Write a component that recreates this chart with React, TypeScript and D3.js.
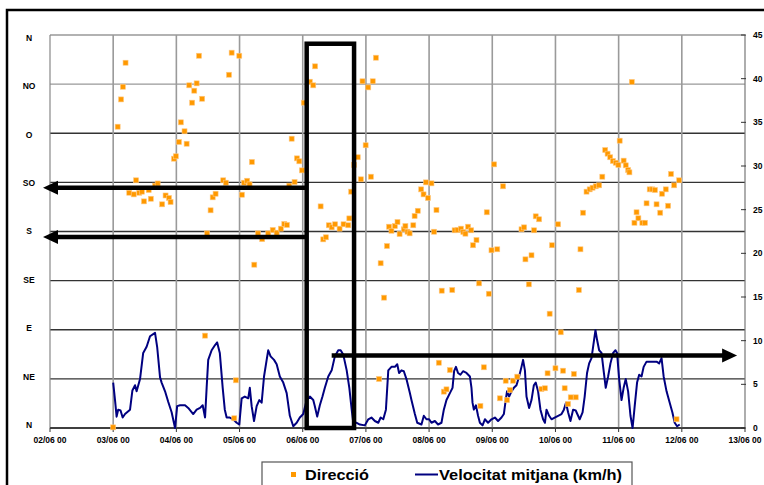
import { useEffect, useRef } from 'react';
import * as d3 from 'd3';

// hours since 02/06 00 -> mean wind speed (km/h)
const speedSeries: [number, number][] = [
  [24, 5.2], [24.7, 3.2], [25.3, 1.3], [25.9, 2.1], [26.8, 2.0], [27.6, 1.2], [28.5, 1.6], [30.4, 2.1],
  [31.3, 4.3], [32.3, 4.9], [32.9, 4.2], [34.2, 5.6], [35.4, 8.6], [36.7, 9.3], [38.0, 10.5], [39.9, 10.9],
  [40.7, 9.3], [41.8, 5.8], [42.4, 5.2], [43.7, 4.2], [44.9, 3.0], [46.2, 1.8], [47.5, 0], [48.3, 2.5],
  [49.4, 2.6], [51.3, 2.6], [52.5, 2.3], [54.4, 1.6], [55.7, 2.1], [57.0, 2.3], [58.0, 2.6], [58.9, 1.2],
  [59.5, 4.6], [60.1, 7.8], [61.4, 8.9], [62.7, 9.5], [63.5, 9.8], [64.5, 8.6], [65.6, 4.6], [66.4, 2.1],
  [67.1, 1.2], [68.3, 1.2], [69.6, 1.0], [70.9, 0.6], [71.9, 0.4], [72.8, 3.4], [74.0, 3.6], [75.3, 3.4],
  [75.9, 4.6], [76.6, 2.5], [77.5, 0.8], [78.5, 2.5], [79.5, 3.2], [80.4, 2.9], [81.3, 5.9], [82.3, 7.8],
  [82.9, 8.9], [83.8, 8.2], [85.1, 7.8], [86.1, 7.3], [87.3, 5.9], [88.6, 5.2], [89.9, 4.0], [91.1, 1.4],
  [92.4, 0.2], [93.7, 0.6], [94.9, 1.2], [96.2, 1.6], [97.5, 3.2], [98.7, 3.6], [100.0, 3.2], [100.6, 2.5],
  [101.5, 1.3], [102.5, 2.6], [103.5, 3.6], [104.4, 4.6], [105.7, 5.9], [107.0, 6.6], [108.2, 8.2], [109.5, 8.9],
  [110.4, 8.9], [111.4, 8.4], [112.7, 6.6], [113.7, 4.6], [114.6, 2.1], [115.2, 0.6], [116.5, 0.6], [117.7, 0.4],
  [119.6, 0.3], [120.9, 1.0], [122.1, 1.2], [123.4, 0.8], [124.7, 0.6], [125.6, 1.2], [126.6, 1.0], [127.6, 2.1],
  [128.5, 6.6], [129.7, 7.0], [131.0, 7.0], [131.9, 7.3], [132.6, 6.3], [133.5, 6.6], [134.4, 6.5], [135.4, 5.6],
  [136.7, 4.0], [137.3, 3.2], [138.6, 1.6], [139.5, 0.6], [141.1, 0.4], [142.0, 1.4], [143.0, 1.0], [144.0, 1.0],
  [144.9, 0.6], [146.2, 0.8], [147.4, 0.4], [148.7, 0.6], [149.6, 2.1], [150.6, 3.2], [151.9, 4.0], [152.9, 4.6],
  [153.5, 6.5], [154.2, 7.0], [155.0, 6.3], [155.9, 6.1], [156.9, 6.5], [158.2, 6.3], [159.5, 5.9], [160.1, 4.6],
  [160.5, 2.9], [161.0, 2.1], [161.8, 2.6], [162.6, 1.4], [163.3, 0.6], [164.3, 0.3], [165.2, 1.0], [166.4, 0.6],
  [167.7, 1.0], [169.0, 1.2], [170.2, 0.8], [171.5, 1.2], [172.4, 1.6], [173.1, 3.2], [173.6, 4.2], [174.4, 3.6],
  [175.3, 4.2], [176.2, 4.6], [177.2, 4.9], [178.2, 5.9], [179.1, 7.0], [179.7, 7.8], [180.4, 6.6], [181.0, 3.6],
  [182.0, 2.3], [182.9, 3.2], [183.8, 4.9], [184.5, 5.2], [185.4, 4.2], [186.3, 2.1], [187.3, 1.0], [188.0, 0.6],
  [188.6, 2.1], [189.6, 1.4], [190.5, 1.0], [191.7, 1.2], [193.0, 1.4], [194.3, 1.6], [195.2, 2.1], [196.0, 2.9],
  [196.8, 1.8], [197.7, 0.8], [198.7, 2.1], [199.7, 2.0], [200.6, 1.4], [201.2, 1.0], [202.3, 1.8], [203.1, 3.6],
  [204.0, 6.3], [204.8, 7.4], [205.7, 8.0], [206.3, 9.3], [207.2, 11.2], [207.8, 10.1], [208.6, 8.9], [209.5, 8.6],
  [210.4, 6.3], [211.1, 4.6], [212.0, 5.9], [212.9, 7.4], [213.9, 8.6], [214.8, 8.9], [215.4, 8.6], [216.2, 5.6],
  [217.1, 3.2], [217.9, 4.6], [218.7, 5.6], [219.6, 4.2], [220.5, 1.4], [221.3, 0], [222.1, 2.5], [223.0, 5.2],
  [223.8, 6.1], [224.7, 5.9], [225.5, 7.0], [226.6, 7.6], [228.5, 7.6], [230.4, 7.6], [231.4, 7.4], [232.3, 8.0],
  [233.1, 5.9], [234.2, 4.2], [235.4, 2.9], [236.4, 1.8], [237.3, 0.6], [238.2, 0.2], [239.2, 0.4],
];

// hours since 02/06 00 -> wind direction (degrees)
const directionSeries: [number, number][] = [
  [24, 0.6], [25.7, 276], [27.0, 301], [27.7, 312.6], [28.7, 334.6], [30.1, 215.5], [31.8, 214], [32.7, 226.9],
  [33.9, 215.5], [34.9, 216.5], [35.7, 207.6], [37.5, 218], [38.3, 210], [39.9, 222], [40.9, 224], [42.6, 204.9],
  [43.9, 213], [45.2, 210.7], [45.8, 207], [47.1, 246.7], [47.8, 248.9], [49.0, 262], [49.7, 280], [51.1, 271.8],
  [51.9, 260.4], [52.9, 313.9], [54.0, 298], [54.8, 309], [55.7, 315.7], [56.6, 341], [57.8, 301.6], [58.9, 84.6],
  [59.7, 178.3], [61.0, 199.4], [61.8, 211.3], [62.9, 214.6], [65.8, 226.9], [66.8, 224.7], [68.0, 323.6], [69.0, 343.8],
  [70.0, 8.9], [70.6, 43.7], [71.9, 341], [72.9, 213.7], [73.7, 224.7], [74.9, 226.5], [75.8, 223.2], [76.7, 243.7],
  [77.6, 149.6], [79.0, 178.3], [80.6, 173], [82.9, 178.3], [84.6, 181.4], [86.1, 178.9], [87.7, 182.6], [89.0, 186.9],
  [90.0, 186], [90.9, 222], [91.8, 265], [92.9, 225.3], [93.8, 247], [94.7, 244.3], [95.7, 236], [96.4, 298],
  [98.7, 317.2], [100.0, 313.9], [100.7, 331.3], [102.8, 203], [103.8, 172.8], [104.8, 174.7], [105.9, 185.7], [107.0, 183.8],
  [108.3, 186.6], [110.0, 182.6], [111.5, 186.6], [113.3, 185.7], [113.7, 192], [114.4, 216.5], [115.5, 241], [116.9, 248],
  [118.1, 227.8], [118.7, 317.6], [119.9, 259], [120.9, 312], [121.9, 230.2], [122.6, 317.6], [123.8, 339.2], [125.0, 44.9],
  [125.6, 150.9], [126.9, 119.4], [128.0, 166.7], [128.8, 184.4], [129.7, 180.7], [131.0, 185], [132.0, 188.7], [132.8, 177.7],
  [134.4, 182], [135.0, 185], [135.8, 179.8], [136.6, 178.3], [138.0, 185.7], [138.5, 194.2], [139.7, 199], [141.0, 218.6],
  [141.9, 214], [142.8, 225], [143.6, 210.7], [144.9, 224.1], [145.9, 179.8], [146.8, 199.7], [147.7, 59.8], [148.8, 125.8],
  [149.6, 33.3], [150.6, 35.4], [151.9, 53.1], [152.8, 126.4], [153.7, 181.1], [154.8, 181.4], [156.1, 182.6], [157.0, 179.5],
  [157.8, 178], [158.8, 184.4], [160.0, 181.1], [160.7, 167.4], [162.0, 172.2], [163.0, 132.5], [163.5, 20.2], [164.8, 55.6],
  [165.9, 197.6], [166.7, 123], [167.7, 162.8], [168.7, 241.5], [169.9, 163.7], [170.9, 27.2], [172.1, 221.4], [173.1, 43.3],
  [173.6, 25.6], [174.7, 34.8], [175.9, 43.3], [177.5, 47], [179.1, 182], [180.1, 183.8], [180.6, 154.5], [181.9, 131.6],
  [182.9, 158.2], [183.9, 181.1], [184.5, 193.9], [185.8, 191.2], [186.7, 35.7], [188.0, 36.4], [189.0, 50.1], [189.8, 104.7],
  [190.7, 167.4], [192.0, 54.7], [193.0, 186.6], [194.0, 87.7], [194.9, 52.5], [195.5, 36.4], [196.8, 22], [197.8, 28.1],
  [199.0, 49.5], [199.7, 28.1], [200.9, 126.4], [201.5, 163.7], [202.5, 197.2], [203.8, 216.5], [205.0, 218.6], [206.1, 220.1],
  [207.3, 221.4], [208.6, 222.3], [209.8, 230.2], [210.9, 254.6], [211.8, 251.3], [212.8, 248], [213.8, 244.6], [214.9, 243],
  [215.9, 241], [216.4, 263.2], [217.9, 244.9], [218.7, 240.6], [219.6, 236.3], [220.1, 234.2], [221.0, 317], [222.0, 188],
  [222.8, 197.6], [223.5, 192.1], [225.0, 188], [226.0, 188], [226.6, 205.8], [227.8, 218.6], [228.8, 218.6], [229.8, 218],
  [230.4, 204.9], [231.8, 197.2], [232.5, 214.6], [233.9, 218.6], [234.8, 203.6], [235.9, 232.7], [237.1, 222.3], [238.0, 8],
  [239.0, 226.9],
];

const directionLabels = ['N', 'NE', 'E', 'SE', 'S', 'SO', 'O', 'NO', 'N'];
const directionTicks = [0, 45, 90, 135, 180, 225, 270, 315, 360];
const speedTicks = [0, 5, 10, 15, 20, 25, 30, 35, 40, 45];

// annotation: highlighted period (hours) and arrows
const boxHours = [97.5, 115.5];
const boxTopSpeed = 44;
const directionArrows = [220, 175];
const speedArrow = { fromHour: 107, toHour: 261, value: 8.3 };

const start = new Date(2008, 5, 2, 0);
const end = new Date(2008, 5, 13, 0);
const toDate = (h: number) => new Date(start.getTime() + h * 3600 * 1000);

const ORANGE = '#FF9900';
const NAVY = '#000080';
const FONT = '"Liberation Sans", Arial, sans-serif';

export default function App() {
  const svgRef = useRef<SVGSVGElement>(null);

  useEffect(() => {
    if (!svgRef.current) return;
    const svg = d3.select(svgRef.current);
    svg.selectAll('*').remove();

    const left = 50;
    const right = 745;
    const top = 35;
    const bottom = 428;

    const x = d3.scaleTime().domain([start, end]).range([left, right]);
    const yDir = d3.scaleLinear().domain([0, 360]).range([bottom, top]);
    const ySpeed = d3.scaleLinear().domain([0, 45]).range([bottom, top]);

    svg.append('rect').attr('width', 764).attr('height', 485).attr('fill', '#fff');

    // outer frame
    svg.append('rect')
      .attr('x', 7).attr('y', 10).attr('width', 800).attr('height', 520)
      .attr('fill', 'none').attr('stroke', '#000').attr('stroke-width', 2.5);

    const g = svg.append('g');

    // horizontal grid (direction)
    g.selectAll('.hgrid')
      .data(directionTicks)
      .enter()
      .append('line')
      .attr('x1', left).attr('x2', right)
      .attr('y1', (d) => yDir(d)).attr('y2', (d) => yDir(d))
      .attr('stroke', (d) => (d === 360 || d === 315 ? '#999' : '#333'))
      .attr('stroke-width', 1.3);

    // vertical grid (days)
    const days = d3.timeDay.range(start, d3.timeDay.offset(end, 1));
    g.selectAll('.vgrid')
      .data(days.slice(1, -1))
      .enter()
      .append('line')
      .attr('x1', (d) => x(d)).attr('x2', (d) => x(d))
      .attr('y1', top).attr('y2', bottom)
      .attr('stroke', '#9a9a9a')
      .attr('stroke-width', 1.6);

    // axes lines
    g.append('line').attr('x1', left).attr('x2', left).attr('y1', top).attr('y2', bottom)
      .attr('stroke', '#888').attr('stroke-width', 1.2);
    g.append('line').attr('x1', right).attr('x2', right).attr('y1', top).attr('y2', bottom)
      .attr('stroke', '#777').attr('stroke-width', 1.2);
    g.append('line').attr('x1', left).attr('x2', right).attr('y1', bottom).attr('y2', bottom)
      .attr('stroke', '#333').attr('stroke-width', 1.5);

    // x ticks + labels
    const fmt = d3.timeFormat('%d/%m %H');
    g.selectAll('.xtick')
      .data(days)
      .enter()
      .append('line')
      .attr('x1', (d) => x(d)).attr('x2', (d) => x(d))
      .attr('y1', bottom).attr('y2', bottom + 4)
      .attr('stroke', '#333');
    g.selectAll('.xlabel')
      .data(days)
      .enter()
      .append('text')
      .attr('x', (d) => x(d))
      .attr('y', bottom + 15)
      .attr('text-anchor', 'middle')
      .attr('font-family', FONT)
      .attr('font-size', '8.5px')
      .attr('font-weight', 'bold')
      .attr('fill', '#000')
      .text((d) => fmt(d));

    // left labels (direction)
    g.selectAll('.ylabel')
      .data(directionTicks)
      .enter()
      .append('text')
      .attr('x', 29)
      .attr('y', (d) => yDir(d) - 3 + 6 * (d / 360))
      .attr('dy', '0.35em')
      .attr('text-anchor', 'middle')
      .attr('font-family', FONT)
      .attr('font-size', '8.5px')
      .attr('font-weight', 'bold')
      .attr('fill', '#000')
      .text((_d, i) => directionLabels[i]);

    // right axis (speed)
    g.selectAll('.rtick')
      .data(speedTicks)
      .enter()
      .append('line')
      .attr('x1', right - 4).attr('x2', right + 1)
      .attr('y1', (d) => ySpeed(d)).attr('y2', (d) => ySpeed(d))
      .attr('stroke', '#333');
    g.selectAll('.rlabel')
      .data(speedTicks)
      .enter()
      .append('text')
      .attr('x', right + 8)
      .attr('y', (d) => ySpeed(d))
      .attr('dy', '0.35em')
      .attr('font-family', FONT)
      .attr('font-size', '8.5px')
      .attr('font-weight', 'bold')
      .attr('fill', '#000')
      .text((d) => String(d));

    // speed line
    const line = d3.line<[number, number]>()
      .x((d) => x(toDate(d[0])))
      .y((d) => ySpeed(d[1]));
    g.append('path')
      .datum(speedSeries)
      .attr('d', line)
      .attr('fill', 'none')
      .attr('stroke', NAVY)
      .attr('stroke-width', 2)
      .attr('stroke-linejoin', 'round');

    // direction markers
    const s = 5;
    g.selectAll('.dir')
      .data(directionSeries)
      .enter()
      .append('rect')
      .attr('x', (d) => x(toDate(d[0])) - s / 2)
      .attr('y', (d) => yDir(d[1]) - s / 2)
      .attr('width', s)
      .attr('height', s)
      .attr('fill', ORANGE)
      .attr('stroke', '#ffc880')
      .attr('stroke-width', 0.6);

    // annotations
    const ann = svg.append('g');
    const bx0 = x(toDate(boxHours[0]));
    const bx1 = x(toDate(boxHours[1]));
    ann.append('rect')
      .attr('x', bx0).attr('y', ySpeed(boxTopSpeed))
      .attr('width', bx1 - bx0).attr('height', ySpeed(0) - ySpeed(boxTopSpeed))
      .attr('fill', 'none').attr('stroke', '#000').attr('stroke-width', 4.5);

    const head = 15;
    const half = 7;
    directionArrows.forEach((deg) => {
      const yy = yDir(deg);
      const tip = left - 7;
      ann.append('line')
        .attr('x1', bx0).attr('x2', tip + head - 1)
        .attr('y1', yy).attr('y2', yy)
        .attr('stroke', '#000').attr('stroke-width', 4.5);
      ann.append('path')
        .attr('d', `M${tip},${yy}L${tip + head},${yy - half}L${tip + head},${yy + half}Z`)
        .attr('fill', '#000');
    });

    const ay = ySpeed(speedArrow.value);
    const ax0 = x(toDate(speedArrow.fromHour));
    const ax1 = x(toDate(speedArrow.toHour));
    ann.append('line')
      .attr('x1', ax0).attr('x2', ax1 - head + 1)
      .attr('y1', ay).attr('y2', ay)
      .attr('stroke', '#000').attr('stroke-width', 4.5);
    ann.append('path')
      .attr('d', `M${ax1},${ay}L${ax1 - head},${ay - half}L${ax1 - head},${ay + half}Z`)
      .attr('fill', '#000');

    // legend
    const lg = svg.append('g');
    lg.append('rect')
      .attr('x', 262).attr('y', 462).attr('width', 370).attr('height', 40)
      .attr('fill', '#fff').attr('stroke', '#555').attr('stroke-width', 1.2);
    lg.append('rect')
      .attr('x', 291).attr('y', 472).attr('width', 5).attr('height', 5)
      .attr('fill', ORANGE);
    lg.append('text')
      .attr('x', 305).attr('y', 480)
      .attr('font-family', FONT).attr('font-size', '15px').attr('font-weight', 'bold')
      .attr('fill', '#000')
      .attr('textLength', 64)
      .attr('lengthAdjust', 'spacingAndGlyphs')
      .text('Direcció');
    lg.append('line')
      .attr('x1', 415).attr('x2', 438).attr('y1', 474.5).attr('y2', 474.5)
      .attr('stroke', NAVY).attr('stroke-width', 2);
    lg.append('text')
      .attr('x', 439).attr('y', 480)
      .attr('font-family', FONT).attr('font-size', '15px').attr('font-weight', 'bold')
      .attr('fill', '#000')
      .attr('textLength', 183)
      .attr('lengthAdjust', 'spacingAndGlyphs')
      .text('Velocitat mitjana (km/h)');
  }, []);

  return (
    <svg
      ref={svgRef}
      width={764}
      height={485}
      style={{ position: 'absolute', left: 0, top: 0, display: 'block' }}
    />
  );
}
